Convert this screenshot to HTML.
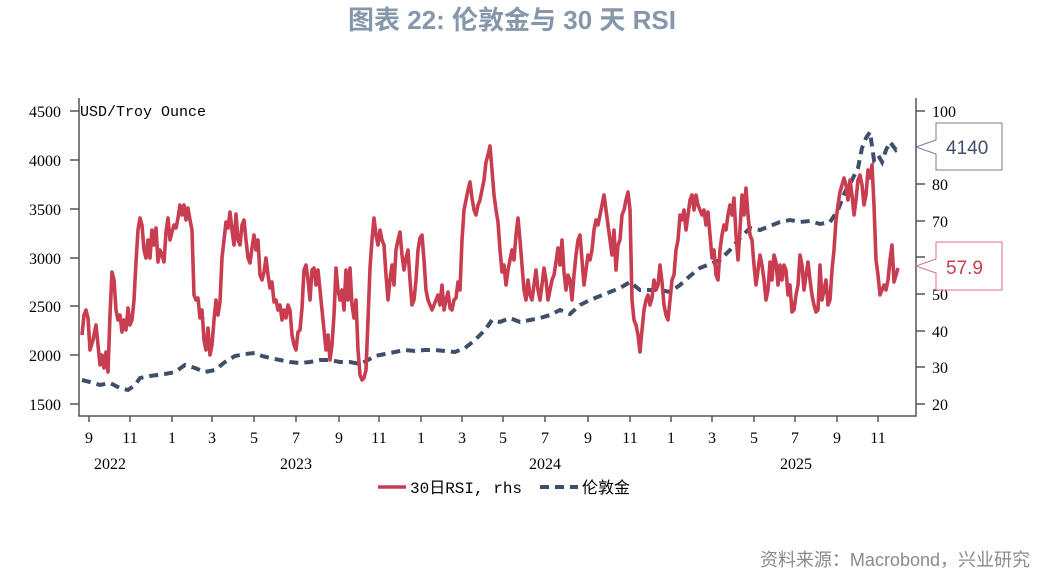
<!DOCTYPE html>
<html><head><meta charset="utf-8"><style>
body{margin:0;background:#fff;width:1037px;height:577px;overflow:hidden}
svg text{font-family:"Liberation Serif","Noto Serif CJK SC",serif}
</style></head><body>
<svg width="1037" height="577" viewBox="0 0 1037 577">
<text x="512" y="29" text-anchor="middle" style="font-family:'Liberation Sans','Noto Sans CJK SC',sans-serif;font-weight:bold;font-size:26px" fill="#8696ab">图表 22: 伦敦金与 30 天 RSI</text>
<g stroke="#555" stroke-width="1.5" fill="none">
<path d="M79,98V416H916V98"/>
<path d="M70,111H79M70,160H79M70,209H79M70,258H79M70,306H79M70,355H79M70,404H79"/>
<path d="M916,111H925M916,147H925M916,184H925M916,221H925M916,257H925M916,294H925M916,331H925M916,367H925M916,404H925"/>
<path d="M89,416v6M130,416v6M172,416v6M212,416v6M254,416v6M296,416v6M339,416v6M379,416v6M421,416v6M462,416v6M503,416v6M545,416v6M588,416v6M630,416v6M671,416v6M712,416v6M754,416v6M795,416v6M837,416v6M878,416v6"/>
</g>
<g font-size="16" fill="#000" text-anchor="end">
<text x="61" y="117">4500</text><text x="61" y="166">4000</text><text x="61" y="215">3500</text><text x="61" y="264">3000</text><text x="61" y="312">2500</text><text x="61" y="361">2000</text><text x="61" y="410">1500</text>
</g>
<g font-size="16" fill="#000">
<text x="932" y="117">100</text><text x="932" y="190">80</text><text x="932" y="227">70</text><text x="932" y="300">50</text><text x="932" y="337">40</text><text x="932" y="373">30</text><text x="932" y="410">20</text>
</g>
<g font-size="16" fill="#000" text-anchor="middle">
<text x="89" y="443">9</text><text x="130" y="443">11</text><text x="172" y="443">1</text><text x="212" y="443">3</text><text x="254" y="443">5</text><text x="296" y="443">7</text><text x="339" y="443">9</text><text x="379" y="443">11</text><text x="421" y="443">1</text><text x="462" y="443">3</text><text x="503" y="443">5</text><text x="545" y="443">7</text><text x="588" y="443">9</text><text x="630" y="443">11</text><text x="671" y="443">1</text><text x="712" y="443">3</text><text x="754" y="443">5</text><text x="795" y="443">7</text><text x="837" y="443">9</text><text x="878" y="443">11</text>
<text x="110" y="469">2022</text><text x="296" y="469">2023</text><text x="545" y="469">2024</text><text x="796" y="469">2025</text>
</g>
<text x="80" y="116" font-size="15" style="font-family:'Liberation Mono',monospace">USD/Troy Ounce</text>
<polyline fill="none" stroke="#3f4f6b" stroke-width="4" stroke-dasharray="9,6" points="82,380 90,382 100,385 110,383 120,388 128,390 135,385 140,378 150,376 165,374 175,372 185,365 195,368 205,372 215,370 225,362 235,356 245,354 255,353 262,356 270,358 280,360 290,362 300,363 310,362 320,360 330,360 340,362 350,362 360,364 368,360 375,356 385,354 395,352 405,350 415,351 425,350 435,350 445,351 455,352 465,348 475,340 485,330 492,320 500,322 510,318 520,322 530,320 540,318 550,315 560,310 570,314 580,305 590,300 600,296 610,292 620,288 630,282 640,290 650,290 660,290 670,292 680,285 690,276 700,268 710,264 720,260 730,250 740,238 750,228 760,230 770,226 780,222 790,220 800,222 810,221 820,224 830,222 838,210 845,192 852,180 858,168 862,148 866,138 870,132 874,160 878,155 882,162 886,150 890,142 896,150 900,146"/>
<polyline fill="none" stroke="#c93d50" stroke-width="3.6" stroke-linejoin="round" points="82,335 84,315 86,310 88,318 90,350 93,340 96,325 98,345 100,365 102,355 104,368 106,352 108,372 110,315 112,272 114,280 116,310 118,320 120,315 122,332 124,320 126,330 128,308 130,325 132,320 134,300 136,262 138,230 140,218 142,225 144,250 146,258 148,240 150,258 152,230 154,245 156,228 158,262 160,250 162,255 164,262 166,232 168,218 170,240 172,232 174,225 176,228 178,218 180,205 182,215 184,205 186,220 188,208 190,220 192,230 194,295 196,300 198,298 200,318 202,310 204,340 206,350 208,328 210,355 212,345 214,320 216,300 218,315 220,302 222,258 224,240 226,222 228,228 230,212 232,230 234,245 236,214 238,240 240,245 242,225 244,220 246,240 248,258 250,263 252,248 254,235 256,250 258,240 260,275 262,280 264,272 266,258 268,275 270,288 272,282 274,302 276,300 278,310 280,305 282,320 284,310 286,318 288,305 290,310 292,335 294,345 296,350 298,332 300,330 302,308 304,270 306,265 308,280 310,300 312,270 314,268 316,285 318,270 320,290 322,310 324,330 326,350 328,335 330,360 332,345 334,315 336,268 338,290 340,300 342,290 344,310 346,270 348,300 350,268 352,305 354,318 356,300 358,350 360,375 362,380 364,378 366,370 368,320 370,268 372,240 374,218 376,235 378,245 380,230 382,240 384,245 386,275 388,300 390,280 392,265 394,285 396,250 398,240 400,232 402,255 404,270 406,258 408,250 410,280 412,305 414,300 416,280 418,250 420,238 422,235 424,260 426,290 428,300 430,305 432,310 434,305 436,300 438,295 440,305 442,285 444,310 446,300 448,292 450,308 452,310 454,300 456,298 458,282 460,290 462,240 464,210 466,200 468,190 470,182 472,198 474,210 476,215 478,205 480,200 482,190 484,180 486,162 488,155 490,146 492,170 494,195 496,210 498,222 500,250 502,272 504,265 506,285 508,270 510,260 512,250 514,260 516,235 518,218 520,240 522,265 524,290 526,300 528,280 530,295 532,300 534,285 536,270 538,290 540,300 542,285 544,268 546,280 548,300 550,290 552,280 554,275 556,262 558,248 560,265 562,240 564,272 566,290 568,275 570,280 572,300 574,275 576,255 578,240 580,235 582,260 584,285 586,270 588,255 590,260 592,250 594,230 596,220 598,225 600,215 602,205 604,195 606,210 608,225 610,240 612,255 614,230 616,270 618,245 620,240 622,215 624,210 626,200 628,192 630,210 632,300 634,320 636,325 638,335 640,352 642,330 644,310 646,300 648,295 650,305 652,298 654,280 656,290 658,285 660,265 662,282 664,305 666,315 668,320 670,300 672,280 674,275 676,250 678,240 680,215 682,220 684,210 686,230 688,215 690,200 692,195 694,210 696,195 698,205 700,210 702,215 704,210 706,225 708,212 710,235 712,258 714,250 716,275 718,280 720,250 722,235 724,225 726,230 728,215 730,205 732,215 734,198 736,235 738,260 740,230 742,195 744,215 746,188 748,215 750,235 752,240 754,265 756,285 758,270 760,255 762,265 764,280 766,300 768,290 770,262 772,280 774,255 776,262 778,285 780,265 782,280 784,265 786,270 788,295 790,285 792,312 794,310 796,295 798,285 800,255 802,265 804,290 806,275 808,262 810,280 812,295 814,305 816,312 818,310 820,265 822,300 824,290 826,280 828,305 830,300 832,270 834,250 836,220 838,205 840,192 842,185 844,178 846,185 848,200 850,180 852,195 854,215 856,200 858,180 860,175 862,185 864,205 866,195 868,170 870,178 872,165 874,205 876,260 878,275 880,295 882,290 884,285 886,290 888,280 890,260 892,245 894,282 896,275 898,268"/>
<path d="M936,123H1002V170H936V154L916,147L936,140Z" fill="#fff" stroke="#6f7e99" stroke-width="1"/>
<text x="946" y="154" font-size="19" fill="#3f4f6b" style="font-family:'Liberation Sans',sans-serif">4140</text>
<path d="M936,242H1002V290H936V273L916,266L936,259Z" fill="#fff" stroke="#d9727f" stroke-width="1"/>
<text x="946" y="274" font-size="19" fill="#c93d50" style="font-family:'Liberation Sans',sans-serif">57.9</text>
<line x1="378" y1="487" x2="406" y2="487" stroke="#c93d50" stroke-width="3.6"/>
<text x="410" y="493" font-size="16" style="font-family:'Liberation Mono','Noto Sans CJK SC',monospace">30日RSI, rhs</text>
<line x1="540" y1="487" x2="578" y2="487" stroke="#3f4f6b" stroke-width="4" stroke-dasharray="9,6"/>
<text x="582" y="493" font-size="16" style="font-family:'Liberation Mono','Noto Sans CJK SC',monospace">伦敦金</text>
<text x="1030" y="566" text-anchor="end" font-size="18" fill="#8a8a8a" style="font-family:'Liberation Sans','Noto Sans CJK SC',sans-serif">资料来源：Macrobond，兴业研究</text>
</svg>
</body></html>
